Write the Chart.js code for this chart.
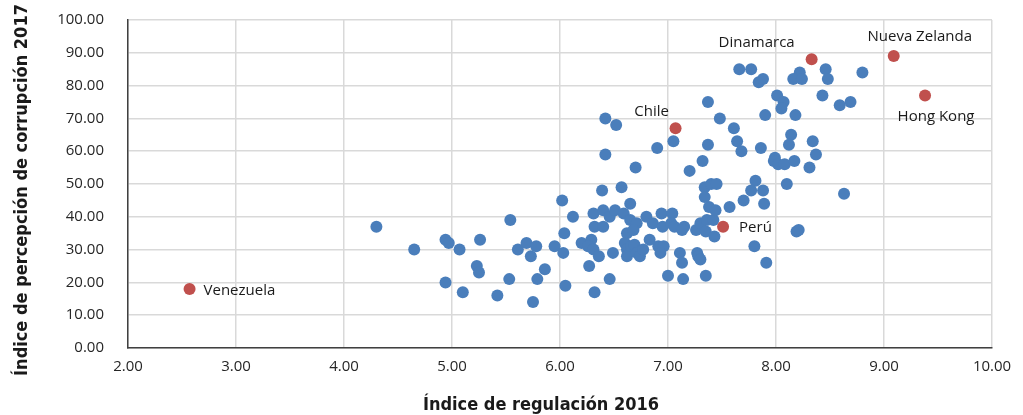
<!DOCTYPE html>
<html>
<head>
<meta charset="utf-8">
<script src="https://cdn.jsdelivr.net/npm/chart.js@4"></script>
<style>
  html, body { margin: 0; padding: 0; background: #fff; }
  #wrap { width: 1023px; height: 415px; }
</style>
</head>
<body>
<div id="wrap"><canvas id="chart" width="1023" height="415"></canvas></div>
<script>
// regulation index 2016 (x) vs corruption perception 2017 (y)
const regX = [
  4.30, 4.65, 4.94, 4.97, 5.07, 5.26, 5.23, 5.25, 4.94, 5.10, 5.42, 5.53, 5.54, 5.61, 5.69, 5.73,
  5.78, 5.75, 5.79, 5.86, 5.95, 6.03, 6.02, 6.04, 6.05, 6.12, 6.20, 6.29, 6.26, 6.31, 6.36, 6.27,
  6.46, 6.32, 6.39, 6.57, 6.65, 6.31, 6.40, 6.46, 6.51, 6.59, 6.65, 6.71, 6.32, 6.40, 6.62, 6.68,
  6.80, 6.86, 6.94, 7.04, 6.95, 7.03, 7.06, 7.15, 7.13, 6.49, 6.60, 6.62, 6.62, 6.66, 6.69, 6.71,
  6.74, 6.77, 6.83, 6.91, 6.96, 6.93, 7.11, 7.13, 7.00, 7.14, 7.27, 7.28, 7.30, 7.35, 6.70, 7.20,
  7.32, 6.42, 6.52, 6.90, 7.05, 6.42, 7.26, 7.30, 7.36, 7.42, 7.35, 7.43, 7.38, 7.44, 7.57, 7.34,
  7.40, 7.45, 7.34, 7.81, 7.77, 7.88, 7.70, 7.89, 8.10, 7.80, 7.91, 8.19, 8.21, 8.63, 8.31, 7.37,
  7.48, 7.61, 7.37, 7.64, 7.68, 7.86, 7.66, 7.77, 7.84, 7.88, 8.01, 8.07, 8.05, 7.90, 8.22, 8.16,
  8.24, 8.46, 8.48, 8.80, 8.43, 8.59, 8.69, 8.18, 8.14, 8.12, 8.34, 8.37, 7.99, 7.98, 8.02, 8.08,
  8.17
];
const corrY = [
  37, 30, 33, 32, 30, 33, 25, 23, 20, 17, 16, 21, 39, 30, 32, 28,
  31, 14, 21, 24, 31, 29, 45, 35, 19, 40, 32, 33, 31, 30, 28, 25,
  21, 17, 48, 49, 44, 41, 42, 40, 42, 41, 39, 38, 37, 37, 35, 36,
  40, 38, 41, 41, 37, 38, 37, 37, 36, 29, 32, 30, 28, 31, 31.5, 29,
  28, 30, 33, 31, 31, 29, 29, 26, 22, 21, 29, 28, 27, 22, 55, 54,
  57, 70, 68, 61, 63, 59, 36, 38, 39, 39, 35.5, 34, 43, 42, 43, 49,
  50, 50, 46, 51, 48, 48, 45, 44, 50, 31, 26, 35.5, 36, 47, 55, 75,
  70, 67, 62, 63, 60, 61, 85, 85, 81, 82, 77, 75, 73, 71, 84, 82,
  82, 85, 82, 84, 77, 74, 75, 71, 65, 62, 63, 59, 58, 57, 56, 56,
  57
];

// highlighted countries
const hlNames = ["Venezuela", "Chile", "Perú", "Dinamarca", "Nueva Zelanda", "Hong Kong"];
const hlX = [2.57, 7.07, 7.51, 8.33, 9.09, 9.38];
const hlY = [18, 67, 37, 88, 89, 77];

const xTicks = [2, 3, 4, 5, 6, 7, 8, 9, 10];
const yTicks = [0, 10, 20, 30, 40, 50, 60, 70, 80, 90, 100];

const xTitle = 'Índice de regulación 2016';
const yTitle = 'Índice de percepción de corrupción 2017';

const baseFont = "'Open Sans', 'DejaVu Sans', sans-serif";
const titleFont = "'DejaVu Sans Condensed', 'DejaVu Sans', sans-serif";

// label offsets from each point (px): [dx, dy, align]
const labelOffset = {
  "Venezuela": [14, 2, 'left'],
  "Chile": [-24, -17, 'center'],
  "Perú": [16, 1, 'left'],
  "Dinamarca": [-55, -17, 'center'],
  "Nueva Zelanda": [26, -19, 'center'],
  "Hong Kong": [11, 21, 'center']
};

// country labels and axis titles
const labelPlugin = {
  id: 'countryLabels',
  afterDatasetsDraw(chart) {
    const ctx = chart.ctx;
    const xs = chart.scales.x, ys = chart.scales.y;
    ctx.save();
    ctx.font = "15px " + baseFont;
    ctx.fillStyle = '#1a1a1a';
    ctx.textBaseline = 'middle';
    hlNames.forEach((name, i) => {
      const px = xs.getPixelForValue(hlX[i]);
      const py = ys.getPixelForValue(hlY[i]);
      const o = labelOffset[name];
      ctx.textAlign = o[2];
      ctx.fillText(name, px + o[0], py + o[1]);
    });

    // axis titles
    ctx.font = "bold 18px " + titleFont;
    ctx.textAlign = 'center';
    ctx.fillText(xTitle, 541, 405);
    ctx.translate(22, 190);
    ctx.rotate(-Math.PI / 2);
    ctx.fillText(yTitle, 0, 0);
    ctx.restore();
  }
};

const ctx = document.getElementById('chart').getContext('2d');
new Chart(ctx, {
  type: 'scatter',
  data: {
    datasets: [
      {
        label: 'Países destacados',
        data: hlX.map((x, i) => ({ x: x, y: hlY[i] })),
        backgroundColor: '#C0504D',
        borderWidth: 0,
        pointRadius: 6,
        pointHoverRadius: 6
      },
      {
        label: 'Países',
        data: regX.map((x, i) => ({ x: x, y: corrY[i] })),
        backgroundColor: '#4A7EBB',
        borderWidth: 0,
        pointRadius: 6,
        pointHoverRadius: 6
      }
    ]
  },
  options: {
    responsive: false,
    animation: false,
    layout: { padding: { top: 20, right: 31, bottom: 0, left: 0 } },
    plugins: {
      legend: { display: false },
      tooltip: { enabled: false }
    },
    scales: {
      x: {
        type: 'linear',
        min: 2,
        max: 10,
        afterBuildTicks(scale) { scale.ticks = xTicks.map(v => ({ value: v })); },
        afterFit(scale) { scale.height = 67; },
        ticks: {
          color: '#262626',
          font: { family: baseFont, size: 15 },
          padding: 10,
          callback: v => Number(v).toFixed(2)
        },
        grid: { color: '#D9D9D9', lineWidth: 1.5, drawTicks: false },
        border: { color: '#404040', width: 1.5 }
      },
      y: {
        type: 'linear',
        min: 0,
        max: 100,
        afterBuildTicks(scale) { scale.ticks = yTicks.map(v => ({ value: v })); },
        afterFit(scale) {
          scale.width = 128;
          // the tick padding would otherwise push the plot area down
          scale.paddingTop = 10;
          scale.paddingBottom = 10;
        },
        ticks: {
          color: '#262626',
          font: { family: baseFont, size: 15 },
          padding: 24,
          callback: v => Number(v).toFixed(2)
        },
        grid: { color: '#D9D9D9', lineWidth: 1.5, drawTicks: false },
        border: { color: '#404040', width: 1.5 }
      }
    }
  },
  plugins: [labelPlugin]
});
</script>
</body>
</html>
